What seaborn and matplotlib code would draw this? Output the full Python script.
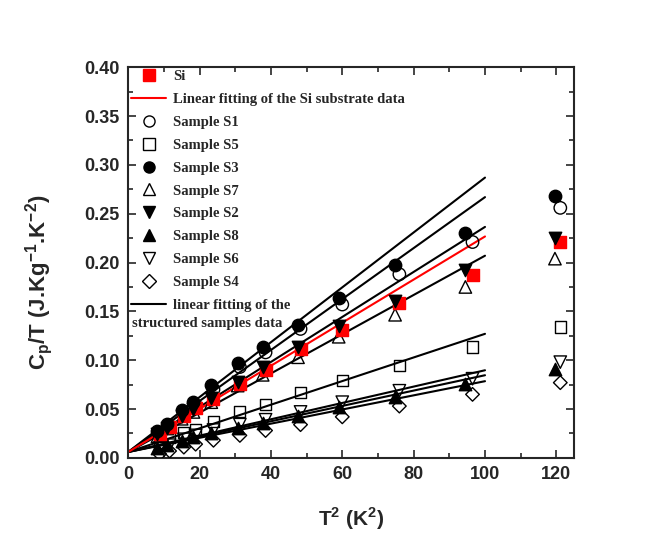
import numpy as np
import pandas as pd
import seaborn as sns
import matplotlib.pyplot as plt
from matplotlib.lines import Line2D
from matplotlib.ticker import MultipleLocator

# T^2 positions (K^2); two slightly shifted sets as in the original plot
t2_left = [8.2, 11.0, 15.0, 18.3, 23.3, 30.7, 37.7, 47.6, 59.0, 74.8, 94.5, 119.6]
t2_right = [8.8, 11.6, 15.6, 18.9, 23.9, 31.3, 38.5, 48.3, 60.0, 76.0, 96.5, 121.1]

# Cp/T values (J.Kg^-1.K^-2)
si = [0.024, 0.032, 0.043, 0.051, 0.060, 0.076, 0.090, 0.111, 0.131, 0.159, 0.187, 0.221]
s1 = [0.025, 0.033, 0.046, 0.054, 0.070, 0.093, 0.108, 0.132, 0.157, 0.188, 0.221, 0.256]
s5 = [0.016, 0.021, 0.026, 0.029, 0.037, 0.047, 0.055, 0.067, 0.079, 0.095, 0.1135, 0.134]
s3 = [0.027, 0.035, 0.049, 0.0575, 0.0745, 0.097, 0.1135, 0.136, 0.1635, 0.197, 0.230, 0.268]
s7 = [0.022, 0.030, 0.040, 0.047, 0.057, 0.074, 0.085, 0.103, 0.124, 0.1465, 0.175, 0.204]
s2 = [0.024, 0.031, 0.043, 0.050, 0.061, 0.078, 0.093, 0.1135, 0.135, 0.161, 0.192, 0.225]
s8 = [0.010, 0.013, 0.017, 0.021, 0.025, 0.031, 0.036, 0.043, 0.052, 0.0626, 0.076, 0.0914]
s6 = [0.010, 0.013, 0.019, 0.023, 0.0285, 0.034, 0.039, 0.047, 0.057, 0.0687, 0.081, 0.098]
s4 = [0.004, 0.007, 0.011, 0.014, 0.018, 0.023, 0.028, 0.034, 0.042, 0.053, 0.065, 0.077]

# linear fits: value at T^2 = 0 and at T^2 = 100
fit_x = [0, 100]
fit_start = 0.006
fit_si_end = 0.2267
fit_black_ends = [0.287, 0.267, 0.2365, 0.207, 0.127, 0.0897, 0.0846, 0.0785]

sns.set_style("ticks")
plt.rcParams['font.family'] = ['Liberation Sans', 'DejaVu Sans']
plt.rcParams['mathtext.fontset'] = 'custom'
plt.rcParams['mathtext.bf'] = 'Liberation Sans:bold'
plt.rcParams['mathtext.rm'] = 'Liberation Sans:bold'

fig = plt.figure(figsize=(6.54, 5.38), dpi=100)
ax = fig.add_axes([0.196, 0.149, 0.682, 0.726])

# fitting lines
for end in fit_black_ends:
    sns.lineplot(x=fit_x, y=[fit_start, end], color='black', lw=1.5, ax=ax)
sns.lineplot(x=fit_x, y=[fit_start, fit_si_end], color='red', lw=1.5, ax=ax)

# samples: (name, x, y, marker, filled, color)
series = [
    ("Sample S1", t2_right, s1, 'o', False, 'black'),
    ("Sample S5", t2_right, s5, 's', False, 'black'),
    ("Sample S7", t2_left, s7, '^', False, 'black'),
    ("Sample S6", t2_right, s6, 'v', False, 'black'),
    ("Sample S4", t2_right, s4, 'D', False, 'black'),
    ("Sample S8", t2_left, s8, '^', True, 'black'),
    ("Si", t2_right, si, 's', True, 'red'),
    ("Sample S2", t2_left, s2, 'v', True, 'black'),
    ("Sample S3", t2_left, s3, 'o', True, 'black'),
]
sizes = {'o': 80, 's': 64, '^': 80, 'v': 80, 'D': 48}
for name, xs, ys, m, filled, c in series:
    sns.scatterplot(x=xs, y=ys, marker=m, s=sizes[m],
                    facecolor=c if filled else 'none',
                    edgecolor=c, linewidth=1.0, ax=ax, zorder=3)

ax.set_xlim(0, 125)
ax.set_ylim(0, 0.40)
ax.xaxis.set_major_locator(MultipleLocator(20))
ax.xaxis.set_minor_locator(MultipleLocator(10))
ax.yaxis.set_major_locator(MultipleLocator(0.05))
ax.yaxis.set_minor_locator(MultipleLocator(0.025))
ax.yaxis.set_major_formatter(plt.FormatStrFormatter('%.2f'))
ax.tick_params(which='both', direction='in', top=True, right=True, width=1.2)
ax.tick_params(which='major', length=6, labelsize=13, pad=6)
ax.tick_params(which='minor', length=3.5)
for lab in ax.get_xticklabels() + ax.get_yticklabels():
    lab.set_fontweight('bold')
for sp in ax.spines.values():
    sp.set_linewidth(1.5)
    sp.set_visible(True)

ax.set_xlabel(r"T$^\mathbf{2}$ (K$^\mathbf{2}$)", fontsize=15, fontweight='bold', labelpad=16)
ax.set_ylabel(r"C$_\mathbf{p}$/T (J.Kg$^\mathbf{-1}$.K$^\mathbf{-2}$)", fontsize=16, fontweight='bold')
ax.yaxis.set_label_coords(-0.165, 0.45)

def mk(m, filled, c='black'):
    return Line2D([], [], ls='none', marker=m, markersize=8 if m != 'D' else 7,
                  markerfacecolor=c if filled else 'none', markeredgecolor=c, markeredgewidth=1.0)

handles = [
    mk('s', True, 'red'),
    Line2D([], [], color='red', lw=1.5),
    mk('o', False), mk('s', False), mk('o', True), mk('^', False),
    mk('v', True), mk('^', True), mk('v', False), mk('D', False),
    Line2D([], [], color='black', lw=1.5),
]
labels = ["Si", "Linear fitting of the Si substrate data", "Sample S1", "Sample S5",
          "Sample S3", "Sample S7", "Sample S2", "Sample S8", "Sample S6", "Sample S4",
          "linear fitting of the"]
leg = ax.legend(handles, labels, loc='upper left', bbox_to_anchor=(0.0, 1.0), frameon=False,
                prop={'family': 'Liberation Serif', 'weight': 'bold', 'size': 10.5},
                handlelength=2.4, handletextpad=0.5, labelspacing=0.66,
                borderaxespad=0.1, borderpad=0.1)
ax.text(0.008, 0.345, "structured samples data", transform=ax.transAxes, ha='left', va='center',
        fontfamily='Liberation Serif', fontweight='bold', fontsize=10.5)

fig.savefig("out.png", dpi=100, facecolor='white')
